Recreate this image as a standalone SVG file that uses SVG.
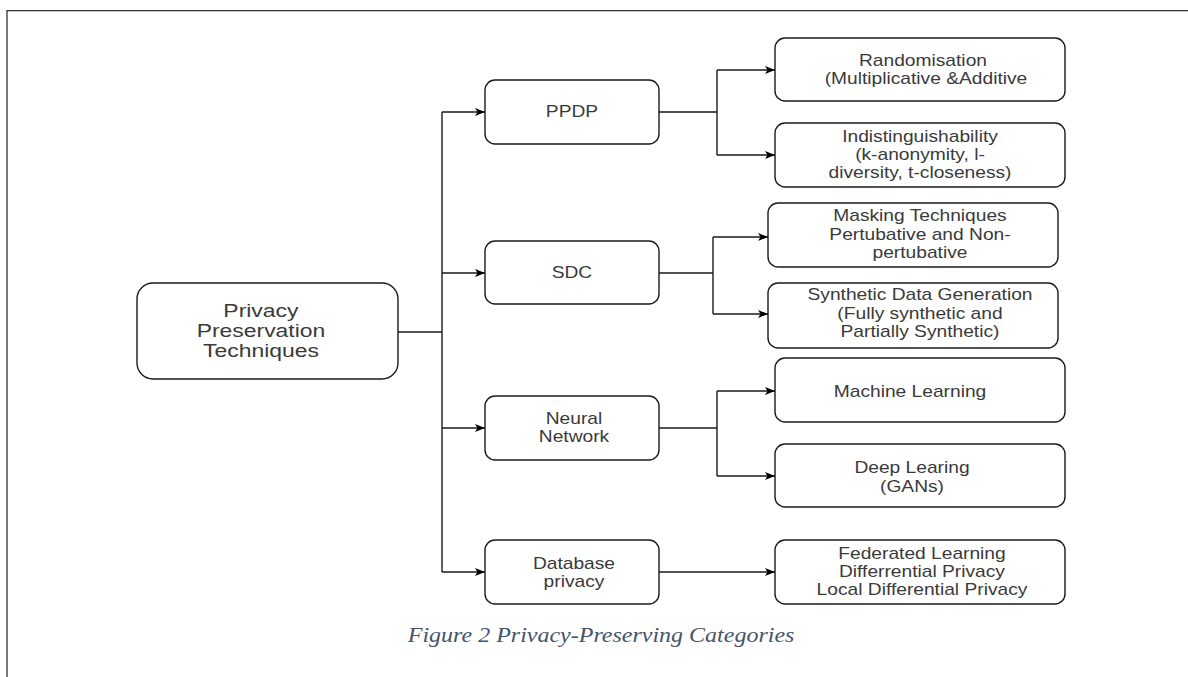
<svg xmlns="http://www.w3.org/2000/svg" width="1188" height="677" viewBox="0 0 1188 677">
<defs>
<marker id="arr" viewBox="0 0 10 10" refX="10" refY="5" markerWidth="11" markerHeight="10" markerUnits="userSpaceOnUse" orient="auto">
<path d="M0,1 L10,5 L0,9 L2.5,5 Z" fill="#000"/>
</marker>
<style>
.box{fill:#fff;stroke:#1a1a1a;stroke-width:1.4}
.t{font-family:"Liberation Sans",Arial,sans-serif;font-size:16px;fill:#3a3a3a;text-anchor:middle;transform-box:fill-box;transform-origin:center;transform:scaleX(1.2)}
.big{font-size:18.5px;transform:scaleX(1.24)}
.ln{fill:none;stroke:#1a1a1a;stroke-width:1.4}
.cap{font-family:"Liberation Serif","Times New Roman",serif;font-style:italic;font-size:20px;fill:#44546A;text-anchor:middle;transform-box:fill-box;transform-origin:center;transform:scaleX(1.2)}
</style>
</defs>
<rect width="1188" height="677" fill="#fff"/>
<path d="M7,677 V10.7 H1188" fill="none" stroke="#333" stroke-width="1.3"/>

<g id="connectors">
<path class="ln" d="M398,332 H442"/>
<path class="ln" d="M442,112 V572"/>
<path class="ln" d="M442,112 H485" marker-end="url(#arr)"/>
<path class="ln" d="M442,273 H485" marker-end="url(#arr)"/>
<path class="ln" d="M442,428 H485" marker-end="url(#arr)"/>
<path class="ln" d="M442,572 H485" marker-end="url(#arr)"/>
<path class="ln" d="M659,112 H717"/>
<path class="ln" d="M717,70 V155"/>
<path class="ln" d="M717,70 H775" marker-end="url(#arr)"/>
<path class="ln" d="M717,155 H775" marker-end="url(#arr)"/>
<path class="ln" d="M659,273 H713"/>
<path class="ln" d="M713,237 V314"/>
<path class="ln" d="M713,237 H768" marker-end="url(#arr)"/>
<path class="ln" d="M713,314 H768" marker-end="url(#arr)"/>
<path class="ln" d="M659,428 H717"/>
<path class="ln" d="M717,391 V476"/>
<path class="ln" d="M717,391 H775" marker-end="url(#arr)"/>
<path class="ln" d="M717,476 H775" marker-end="url(#arr)"/>
<path class="ln" d="M659,572 H775" marker-end="url(#arr)"/>
</g>

<g id="root">
<rect class="box" x="137" y="283" width="261" height="96" rx="16"/>
<text class="t big" x="261" y="317">Privacy</text>
<text class="t big" x="261" y="337">Preservation</text>
<text class="t big" x="261" y="357">Techniques</text>
</g>

<g id="ppdp">
<rect class="box" x="485" y="80" width="174" height="64" rx="10"/>
<text class="t" x="572" y="117">PPDP</text>
</g>
<g id="sdc">
<rect class="box" x="485" y="241" width="174" height="63" rx="10"/>
<text class="t" x="572" y="278">SDC</text>
</g>
<g id="neural">
<rect class="box" x="485" y="396" width="174" height="64" rx="10"/>
<text class="t" x="574" y="424">Neural</text>
<text class="t" x="574" y="442">Network</text>
</g>
<g id="database">
<rect class="box" x="485" y="540" width="174" height="64" rx="10"/>
<text class="t" x="574" y="569">Database</text>
<text class="t" x="574" y="587">privacy</text>
</g>

<g id="randomisation">
<rect class="box" x="775" y="38" width="290" height="63" rx="10"/>
<text class="t" x="923" y="66">Randomisation</text>
<text class="t" x="926" y="84">(Multiplicative &amp;Additive</text>
</g>
<g id="indistinguishability">
<rect class="box" x="775" y="123" width="290" height="64" rx="10"/>
<text class="t" x="920" y="142">Indistinguishability</text>
<text class="t" x="920" y="160">(k-anonymity, l-</text>
<text class="t" x="920" y="178">diversity, t-closeness)</text>
</g>
<g id="masking">
<rect class="box" x="768" y="203" width="290" height="64" rx="10"/>
<text class="t" x="920" y="221">Masking Techniques</text>
<text class="t" x="920" y="240">Pertubative and Non-</text>
<text class="t" x="920" y="258">pertubative</text>
</g>
<g id="synthetic">
<rect class="box" x="768" y="283" width="290" height="65" rx="10"/>
<text class="t" x="920" y="300">Synthetic Data Generation</text>
<text class="t" x="920" y="319">(Fully synthetic and</text>
<text class="t" x="920" y="337">Partially Synthetic)</text>
</g>
<g id="ml">
<rect class="box" x="775" y="358" width="290" height="64" rx="10"/>
<text class="t" x="910" y="397">Machine Learning</text>
</g>
<g id="dl">
<rect class="box" x="775" y="444" width="290" height="63" rx="10"/>
<text class="t" x="912" y="473">Deep Learing</text>
<text class="t" x="912" y="492">(GANs)</text>
</g>
<g id="federated">
<rect class="box" x="775" y="540" width="290" height="64" rx="10"/>
<text class="t" x="922" y="559">Federated Learning</text>
<text class="t" x="922" y="577">Differrential Privacy</text>
<text class="t" x="922" y="595">Local Differential Privacy</text>
</g>

<text class="cap" x="601" y="642">Figure 2 Privacy-Preserving Categories</text>
</svg>
